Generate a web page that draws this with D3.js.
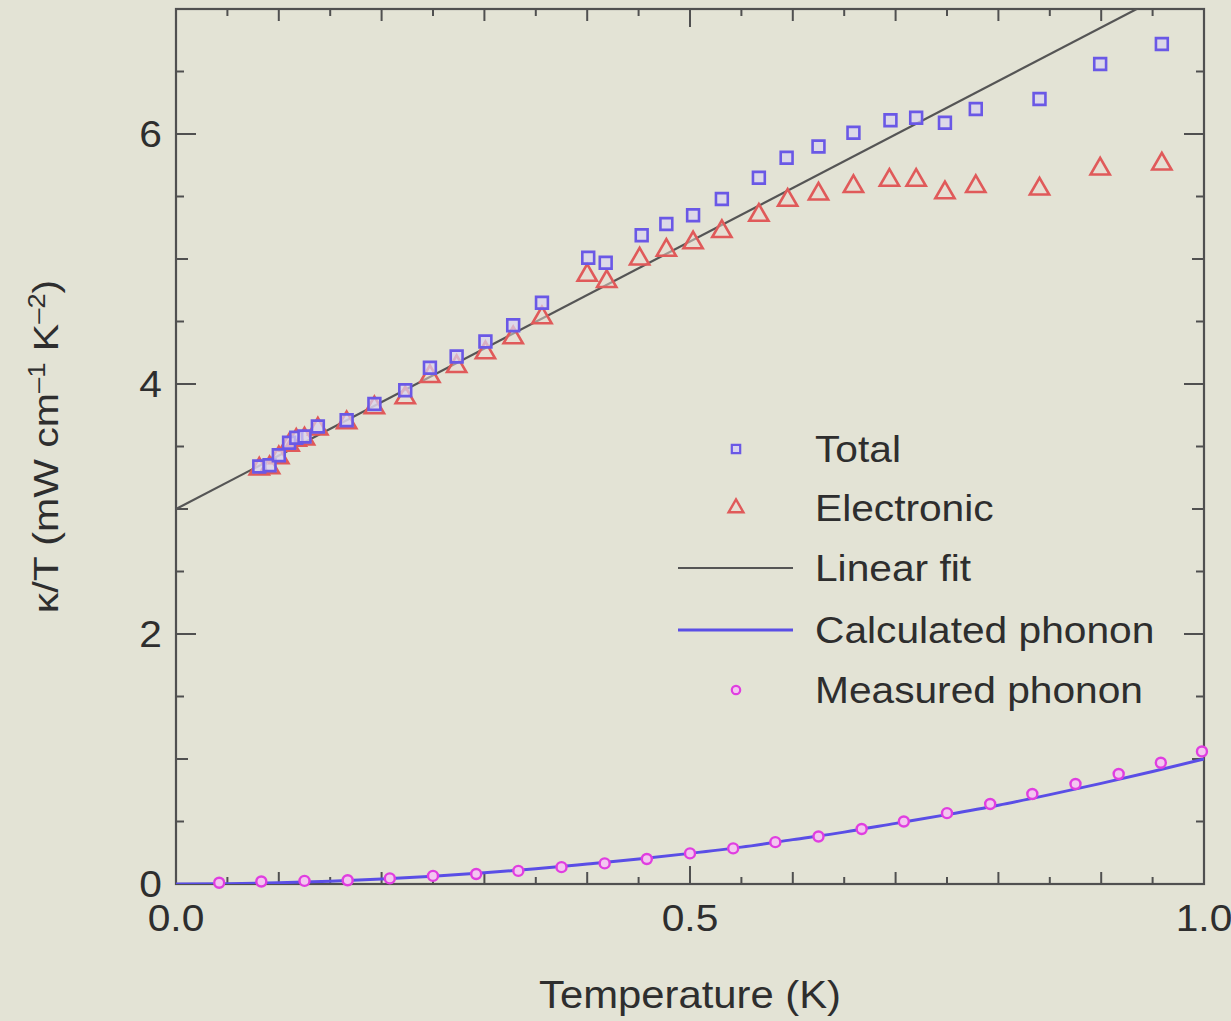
<!DOCTYPE html>
<html>
<head>
<meta charset="utf-8">
<script src="https://cdn.jsdelivr.net/npm/d3@7"></script>
<style>
  html, body { margin: 0; padding: 0; background: #e3e3d5; }
  svg { display: block; }
  text { font-family: "Liberation Sans", Arial, Helvetica, sans-serif; fill: #2e2e2e; }
</style>
</head>
<body>
<svg id="chart" width="1231" height="1021"></svg>
<script>
// Temperature (K) and kappa/T (mW cm^-1 K^-2)
const totalT = [0.081, 0.091, 0.100, 0.110, 0.117, 0.125, 0.138, 0.166, 0.193, 0.223, 0.247, 0.273, 0.301, 0.328, 0.356, 0.401, 0.418, 0.453, 0.477, 0.503, 0.531, 0.567, 0.594, 0.625, 0.659, 0.695, 0.720, 0.748, 0.778, 0.840, 0.899, 0.959];
const totalK = [3.34, 3.35, 3.43, 3.53, 3.57, 3.58, 3.66, 3.71, 3.84, 3.95, 4.13, 4.22, 4.34, 4.47, 4.65, 5.01, 4.97, 5.19, 5.28, 5.35, 5.48, 5.65, 5.81, 5.90, 6.01, 6.11, 6.13, 6.09, 6.20, 6.28, 6.56, 6.72];

const elecT = [0.081, 0.091, 0.100, 0.110, 0.117, 0.125, 0.138, 0.166, 0.193, 0.223, 0.247, 0.273, 0.301, 0.328, 0.356, 0.400, 0.419, 0.451, 0.477, 0.503, 0.531, 0.567, 0.595, 0.625, 0.659, 0.694, 0.720, 0.748, 0.778, 0.840, 0.899, 0.959];
const elecK = [3.32, 3.33, 3.41, 3.51, 3.55, 3.56, 3.64, 3.69, 3.81, 3.89, 4.06, 4.14, 4.25, 4.37, 4.53, 4.87, 4.82, 5.00, 5.07, 5.13, 5.22, 5.35, 5.47, 5.52, 5.58, 5.63, 5.63, 5.53, 5.58, 5.56, 5.72, 5.76];

const measPhononT = [0.042, 0.083, 0.125, 0.167, 0.208, 0.250, 0.292, 0.333, 0.375, 0.417, 0.458, 0.500, 0.542, 0.583, 0.625, 0.667, 0.708, 0.750, 0.792, 0.833, 0.875, 0.917, 0.958, 0.998];
const measPhononK = [0.01, 0.02, 0.025, 0.03, 0.045, 0.065, 0.08, 0.105, 0.135, 0.165, 0.20, 0.245, 0.285, 0.335, 0.38, 0.44, 0.50, 0.567, 0.64, 0.72, 0.80, 0.88, 0.97, 1.06];

const calcPhononT = [0.0, 0.05, 0.10, 0.15, 0.20, 0.25, 0.30, 0.35, 0.40, 0.45, 0.50, 0.55, 0.60, 0.65, 0.70, 0.75, 0.80, 0.85, 0.90, 0.95, 1.00];
const calcPhononK = [0.0, 0.003, 0.01, 0.022, 0.04, 0.062, 0.09, 0.122, 0.16, 0.2, 0.245, 0.295, 0.355, 0.415, 0.485, 0.555, 0.63, 0.715, 0.805, 0.9, 1.0];

const fitT = [0.0, 1.0];
const fitK = [3.0, 7.28];

const xTickValues = [0, 0.5, 1.0];
const xTickLabels = ["0.0", "0.5", "1.0"];
const yTickValues = [0, 2, 4, 6];
const yTickLabels = ["0", "2", "4", "6"];

const legendItems = [
  { label: "Total", kind: "square" },
  { label: "Electronic", kind: "triangle" },
  { label: "Linear fit", kind: "fit" },
  { label: "Calculated phonon", kind: "calc" },
  { label: "Measured phonon", kind: "circle" }
];

const colors = {
  total: "#6a58e6",
  totalFill: "#d8d3ef",
  elec: "#e05a5a",
  elecFill: "#e9dcd2",
  fit: "#555555",
  calc: "#5a4ee6",
  meas: "#e03ee0",
  measFill: "#f3c6f0",
  axis: "#505050"
};

const svg = d3.select("#chart");
const margin = { left: 176, right: 1231 - 1204, top: 9, bottom: 1021 - 884 };
const W = 1231, H = 1021;
const STRETCH = 1.1; // slightly wide lettering

const x = d3.scaleLinear().domain([0, 1]).range([margin.left, W - margin.right]);
const y = d3.scaleLinear().domain([0, 7]).range([H - margin.bottom, margin.top]);

svg.append("rect").attr("width", W).attr("height", H).attr("fill", "#e3e3d5");

svg.append("defs").append("clipPath").attr("id", "plotClip")
  .append("rect")
  .attr("x", x(0)).attr("y", y(7))
  .attr("width", x(1) - x(0)).attr("height", y(0) - y(7));

// Frame
svg.append("rect")
  .attr("x", x(0)).attr("y", y(7))
  .attr("width", x(1) - x(0)).attr("height", y(0) - y(7))
  .attr("fill", "none").attr("stroke", colors.axis).attr("stroke-width", 2.2);

// Inward ticks on all four sides
const xMinor = d3.range(0, 1.0001, 0.05);
const yMinor = d3.range(0, 7.0001, 0.5);
function xTickLen(v) {
  const r = Math.round(v * 100);
  if (r % 50 === 0) return 18;
  if (r % 10 === 0) return 12;
  return 7;
}
function yTickLen(v) {
  const r = Math.round(v * 10);
  if (r % 20 === 0) return 20;
  if (r % 10 === 0) return 12;
  return 8;
}
const ticks = svg.append("g").attr("stroke", colors.axis).attr("stroke-width", 2);
xMinor.forEach(v => {
  ticks.append("line").attr("x1", x(v)).attr("x2", x(v))
    .attr("y1", y(0)).attr("y2", y(0) - xTickLen(v));
  ticks.append("line").attr("x1", x(v)).attr("x2", x(v))
    .attr("y1", y(7)).attr("y2", y(7) + xTickLen(v));
});
yMinor.forEach(v => {
  ticks.append("line").attr("y1", y(v)).attr("y2", y(v))
    .attr("x1", x(0)).attr("x2", x(0) + yTickLen(v));
  ticks.append("line").attr("y1", y(v)).attr("y2", y(v))
    .attr("x1", x(1)).attr("x2", x(1) - yTickLen(v));
});

// Tick labels
svg.append("g").selectAll("text").data(xTickValues).join("text")
  .attr("transform", d => `translate(${x(d)},${y(0) + 47}) scale(${STRETCH},1)`)
  .attr("text-anchor", "middle").attr("font-size", 37)
  .text((d, i) => xTickLabels[i]);
svg.append("g").selectAll("text").data(yTickValues).join("text")
  .attr("transform", d => `translate(${x(0) - 14},${y(d) + 13}) scale(${STRETCH},1)`)
  .attr("text-anchor", "end").attr("font-size", 37)
  .text((d, i) => yTickLabels[i]);

// Axis titles
svg.append("text")
  .attr("transform", `translate(${x(0.5)},1008) scale(${STRETCH},1)`)
  .attr("text-anchor", "middle").attr("font-size", 38)
  .text("Temperature (K)");

const yTitle = svg.append("text")
  .attr("transform", `translate(58, ${y(3.5)}) rotate(-90) scale(1.14,1)`)
  .attr("text-anchor", "middle").attr("font-size", 36);
yTitle.append("tspan").text("κ/T (mW cm");
yTitle.append("tspan").attr("dy", -13).attr("font-size", 24).text("–1");
yTitle.append("tspan").attr("dy", 13).text(" K");
yTitle.append("tspan").attr("dy", -13).attr("font-size", 24).text("–2");
yTitle.append("tspan").attr("dy", 13).text(")");

const plot = svg.append("g").attr("clip-path", "url(#plotClip)");

// Linear fit
const line = d3.line().x(d => x(d[0])).y(d => y(d[1]));
plot.append("path")
  .datum(fitT.map((t, i) => [t, fitK[i]]))
  .attr("d", line)
  .attr("fill", "none").attr("stroke", colors.fit).attr("stroke-width", 2.2);

// Calculated phonon curve
plot.append("path")
  .datum(calcPhononT.map((t, i) => [t, calcPhononK[i]]))
  .attr("d", line.curve(d3.curveMonotoneX))
  .attr("fill", "none").attr("stroke", colors.calc).attr("stroke-width", 3);

const sq = d3.symbol().type(d3.symbolSquare);
const tri = d3.symbol().type(d3.symbolTriangle);

// Electronic triangles
svg.append("g").selectAll("path")
  .data(elecT.map((t, i) => [t, elecK[i]])).join("path")
  .attr("transform", d => `translate(${x(d[0])},${y(d[1])})`)
  .attr("d", tri.size(160)())
  .attr("fill", colors.elecFill).attr("fill-opacity", 0.5)
  .attr("stroke", colors.elec).attr("stroke-width", 2.6);

// Total squares
svg.append("g").selectAll("path")
  .data(totalT.map((t, i) => [t, totalK[i]])).join("path")
  .attr("transform", d => `translate(${x(d[0])},${y(d[1])})`)
  .attr("d", sq.size(140)())
  .attr("fill", colors.totalFill).attr("fill-opacity", 0.7)
  .attr("stroke", colors.total).attr("stroke-width", 2.6);

// Measured phonon circles
svg.append("g").selectAll("circle")
  .data(measPhononT.map((t, i) => [t, measPhononK[i]])).join("circle")
  .attr("cx", d => x(d[0])).attr("cy", d => y(d[1]))
  .attr("r", 5)
  .attr("fill", colors.measFill)
  .attr("stroke", colors.meas).attr("stroke-width", 2.4);

// Legend
const legend = svg.append("g");
const legendRowY = [449, 508, 568, 630, 690];
legendItems.forEach((item, i) => {
  const cy = legendRowY[i];
  if (item.kind === "square") {
    legend.append("path").attr("transform", `translate(736,${cy})`)
      .attr("d", sq.size(70)())
      .attr("fill", colors.totalFill).attr("stroke", colors.total).attr("stroke-width", 2.2);
  } else if (item.kind === "triangle") {
    legend.append("path").attr("transform", `translate(736,${cy})`)
      .attr("d", tri.size(95)())
      .attr("fill", colors.elecFill).attr("fill-opacity", 0.5)
      .attr("stroke", colors.elec).attr("stroke-width", 2.4);
  } else if (item.kind === "fit") {
    legend.append("line").attr("x1", 678).attr("x2", 793).attr("y1", cy).attr("y2", cy)
      .attr("stroke", colors.fit).attr("stroke-width", 2.2);
  } else if (item.kind === "calc") {
    legend.append("line").attr("x1", 678).attr("x2", 793).attr("y1", cy).attr("y2", cy)
      .attr("stroke", colors.calc).attr("stroke-width", 2.8);
  } else {
    legend.append("circle").attr("cx", 736).attr("cy", cy).attr("r", 4.2)
      .attr("fill", colors.measFill).attr("stroke", colors.meas).attr("stroke-width", 2.2);
  }
  legend.append("text")
    .attr("transform", `translate(815,${cy + 13}) scale(${STRETCH},1)`)
    .attr("font-size", 37)
    .text(item.label);
});
</script>
</body>
</html>
